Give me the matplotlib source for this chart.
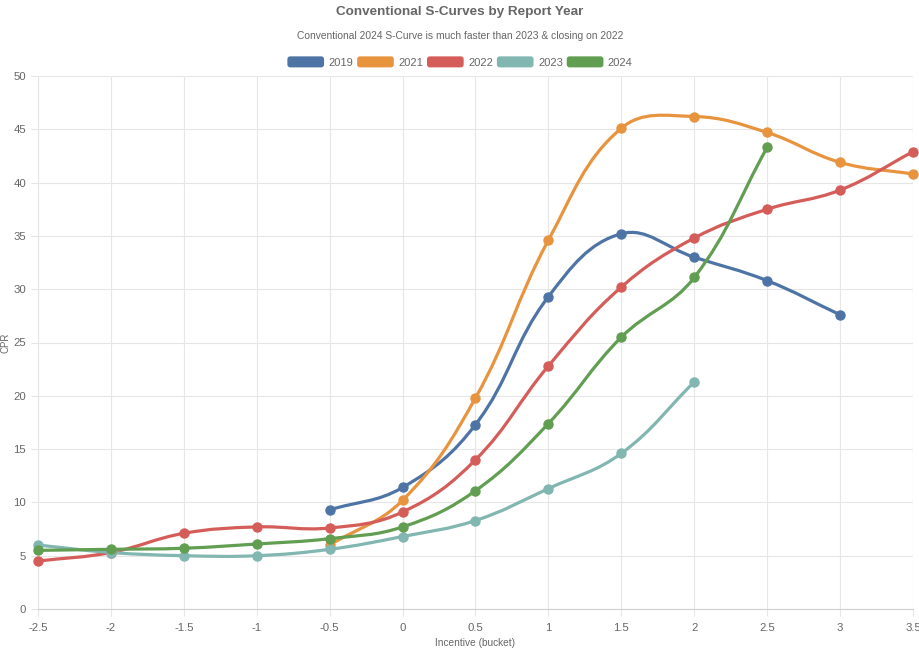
import numpy as np
import matplotlib
matplotlib.use("Agg")
import matplotlib.pyplot as plt
from matplotlib.path import Path
from matplotlib.patches import PathPatch, Patch, FancyBboxPatch
from matplotlib.legend_handler import HandlerPatch

plt.rcParams['font.family'] = ['Liberation Sans', 'DejaVu Sans']

title = "Conventional S-Curves by Report Year"
subtitle = "Conventional 2024 S-Curve is much faster than 2023 & closing on 2022"
x_label = "Incentive (bucket)"
y_label = "CPR"

x_2019 = [-0.5, 0, 0.5, 1, 1.5, 2, 2.5, 3]
y_2019 = [9.3, 11.4, 17.3, 29.3, 35.2, 33.0, 30.8, 27.6]
x_2021 = [-0.5, 0, 0.5, 1, 1.5, 2, 2.5, 3, 3.5]
y_2021 = [6.0, 10.2, 19.8, 34.6, 45.1, 46.2, 44.7, 41.9, 40.8]
x_2022 = [-2.5, -2, -1.5, -1, -0.5, 0, 0.5, 1, 1.5, 2, 2.5, 3, 3.5]
y_2022 = [4.5, 5.3, 7.1, 7.7, 7.6, 9.1, 14.0, 22.8, 30.2, 34.8, 37.5, 39.3, 42.9]
x_2023 = [-2.5, -2, -1.5, -1, -0.5, 0, 0.5, 1, 1.5, 2]
y_2023 = [6.0, 5.3, 5.0, 5.0, 5.6, 6.8, 8.3, 11.3, 14.6, 21.3]
x_2024 = [-2.5, -2, -1.5, -1, -0.5, 0, 0.5, 1, 1.5, 2, 2.5]
y_2024 = [5.5, 5.6, 5.7, 6.1, 6.6, 7.7, 11.1, 17.4, 25.5, 31.1, 43.3]

series = [
    ("2019", x_2019, y_2019, '#4e74a6'),
    ("2021", x_2021, y_2021, '#e8943f'),
    ("2022", x_2022, y_2022, '#d55d59'),
    ("2023", x_2023, y_2023, '#81b6b1'),
    ("2024", x_2024, y_2024, '#619e51'),
]

W, H = 920, 653
fig = plt.figure(figsize=(W / 100, H / 100), dpi=100)
ax = fig.add_axes([38 / W, 1 - 609 / H, (913 - 38) / W, (609 - 76) / H])
ax.set_xlim(-2.5, 3.5)
ax.set_ylim(0, 50)

# pixel scales for spline (Chart.js style bezier, tension 0.4)
sx = (913 - 38) / 6.0
sy = (609 - 76) / 50.0


def bezier_path(xs, ys, tension=0.4):
    px = np.array(xs, float) * sx
    py = np.array(ys, float) * sy
    n = len(px)
    cps_prev = []
    cps_next = []
    for i in range(n):
        p0 = (px[max(i - 1, 0)], py[max(i - 1, 0)])
        p1 = (px[i], py[i])
        p2 = (px[min(i + 1, n - 1)], py[min(i + 1, n - 1)])
        d01 = np.hypot(p1[0] - p0[0], p1[1] - p0[1])
        d12 = np.hypot(p2[0] - p1[0], p2[1] - p1[1])
        s01 = d01 / (d01 + d12) if (d01 + d12) else 0
        s12 = d12 / (d01 + d12) if (d01 + d12) else 0
        fa = tension * s01
        fb = tension * s12
        cps_prev.append((p1[0] - fa * (p2[0] - p0[0]), p1[1] - fa * (p2[1] - p0[1])))
        cps_next.append((p1[0] + fb * (p2[0] - p0[0]), p1[1] + fb * (p2[1] - p0[1])))
    verts = [(px[0], py[0])]
    codes = [Path.MOVETO]
    for i in range(1, n):
        verts += [cps_next[i - 1], cps_prev[i], (px[i], py[i])]
        codes += [Path.CURVE4] * 3
    verts = [(vx / sx, vy / sy) for vx, vy in verts]
    return Path(verts, codes)


for name, xs, ys, c in series:
    ax.add_patch(PathPatch(bezier_path(xs, ys), facecolor='none', edgecolor=c,
                           lw=2.3, capstyle='round', joinstyle='round', zorder=3))
    ax.plot(xs, ys, 'o', color=c, markersize=6.5, zorder=4, clip_on=False)

ax.set_xticks(np.arange(-2.5, 3.51, 0.5))
ax.set_xticklabels(['-2.5', '-2', '-1.5', '-1', '-0.5', '0', '0.5', '1', '1.5', '2', '2.5', '3', '3.5'])
ax.set_yticks(np.arange(0, 51, 5))
ax.grid(True, color='#e6e6e6', lw=0.8)
ax.set_axisbelow(True)
for s in ['top', 'right']:
    ax.spines[s].set_visible(False)
ax.spines['left'].set_color('#e6e6e6')
ax.spines['bottom'].set_color('#cfcfcf')
ax.tick_params(axis='both', colors='#e6e6e6', labelcolor='#666666', labelsize=8.2, length=5, width=0.8)
ax.tick_params(axis='x', pad=5)
ax.set_xlabel(x_label, color='#666666', fontsize=7.3)
ax.set_ylabel(y_label, color='#666666', fontsize=7.0)
ax.xaxis.set_label_coords(0.5, -(643 - 609) / (609 - 76), transform=ax.transAxes)
ax.xaxis.label.set_va('center')
ax.yaxis.set_label_coords(-(38 - 6) / (913 - 38), 0.5, transform=ax.transAxes)
ax.yaxis.label.set_va('center')

fig.text(0.5, 1 - 12.5 / H, title, ha='center', va='center', fontsize=9.7,
         fontweight='bold', color='#666666')
fig.text(0.5, 1 - 36 / H, subtitle, ha='center', va='center', fontsize=7.4, color='#666666')


class RoundHandler(HandlerPatch):
    def create_artists(self, legend, orig_handle, xdescent, ydescent, width, height, fontsize, trans):
        p = FancyBboxPatch((-xdescent, -ydescent), width, height,
                           boxstyle="round,pad=0,rounding_size=2",
                           facecolor=orig_handle.get_facecolor(), edgecolor='none', transform=trans)
        return [p]


handles = [Patch(facecolor=c, label=n) for n, _, _, c in series]
leg = fig.legend(handles=handles, loc='center', bbox_to_anchor=(0.5, 1 - 62 / H), ncol=5,
                 frameon=False, fontsize=8, handlelength=3.3, handleheight=1.15,
                 handletextpad=0.4, columnspacing=0.35, borderpad=0,
                 handler_map={Patch: RoundHandler()})
for t in leg.get_texts():
    t.set_color('#666666')

fig.savefig('out.png', dpi=100)
